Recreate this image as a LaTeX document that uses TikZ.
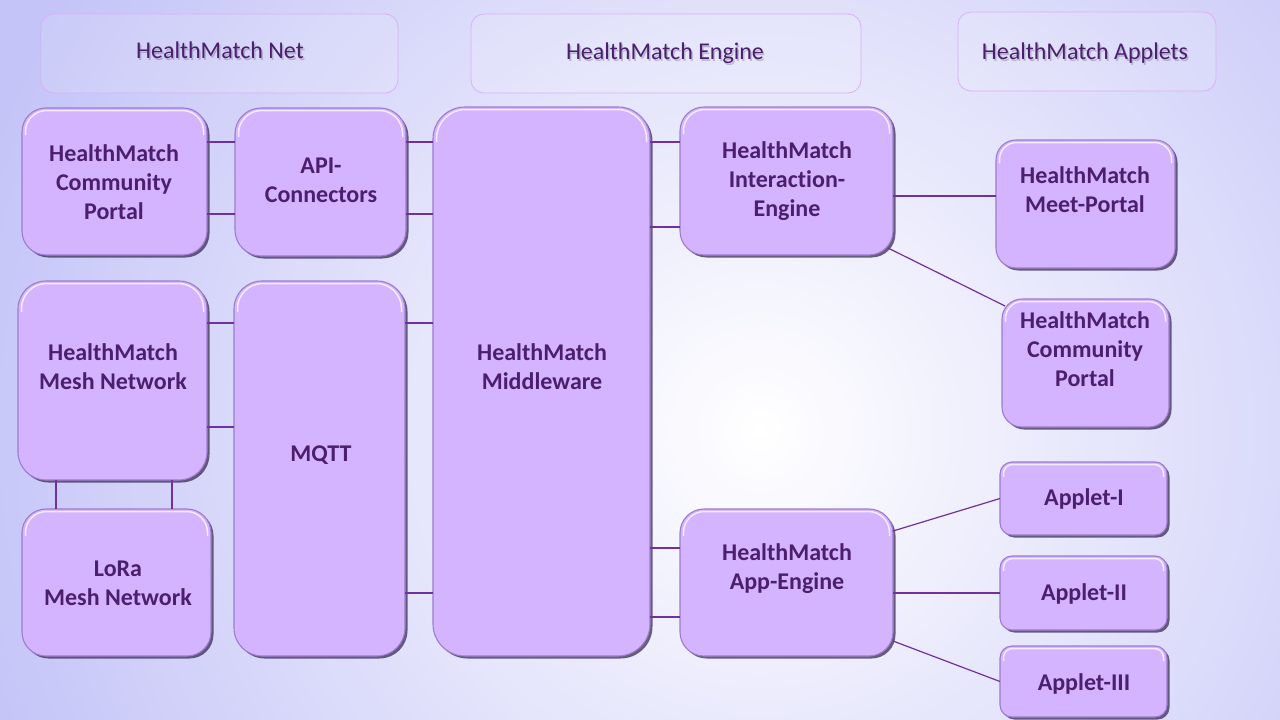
\documentclass[tikz,border=0pt]{standalone}
\usepackage{fontspec}
\setmainfont[Ligatures=NoCommon]{Carlito}
\usetikzlibrary{shadows,calc}
\definecolor{bgedge}{HTML}{C4C4F8}
\definecolor{boxfill}{HTML}{D4B4FE}
\definecolor{boxline}{HTML}{9C7CD0}
\definecolor{shadowc}{HTML}{3A2C52}
\definecolor{txtc}{HTML}{4B1E6E}
\definecolor{linkc}{HTML}{7030A0}
\definecolor{hdrline}{HTML}{DDB0F5}
\tikzset{
  boxstyle/.style={draw=boxline, line width=1.1pt, fill=boxfill, outer sep=0pt, inner sep=0pt,
    drop shadow={shadow xshift=2.5pt, shadow yshift=-2.5pt, fill=shadowc, opacity=0.75}},
  hilite/.style={draw=white, opacity=0.75, line width=1.5pt},
  boxtext/.style={text=txtc, align=center, font=\bfseries\fontsize{24}{29}\selectfont},
  hdrbox/.style={draw=hdrline, line width=0.8pt, fill=white, fill opacity=0.12, rounded corners=13pt,
    outer sep=0pt, inner sep=0pt},
  hdrtext/.style={text=txtc, font=\fontsize{24}{28}\selectfont},
  hdrshadow/.style={text=shadowc, opacity=0.25, font=\fontsize{24}{28}\selectfont},
  link/.style={draw=linkc, line width=1.2pt},
  linkthick/.style={draw=linkc, line width=2pt},
}
\newcommand\mybox[6]{%
  \node[boxstyle, rounded corners=#6pt, minimum width=#4pt, minimum height=#5pt] (#1) at (#2,#3) {};
  \draw[hilite, rounded corners=#6pt-3pt]
    ([shift={(3.5,#6+3)}]#1.north west) -- ([shift={(3.5,2.5)}]#1.north west)
    -- ([shift={(-3.5,2.5)}]#1.north east) -- ([shift={(-3.5,#6+3)}]#1.north east);
}
\begin{document}
\begin{tikzpicture}[x=1pt,y=-1pt]
\useasboundingbox (0,0) rectangle (1280,720);
\begin{scope}
  \clip (0,0) rectangle (1280,720);
  \shade[inner color=white, outer color=bgedge] (760-820,430-820) rectangle (760+820,430+820);
\end{scope}

% header boxes
\node[hdrbox, minimum width=357pt, minimum height=79pt] (hn) at (219.5,53.5) {};
\node[hdrbox, minimum width=390pt, minimum height=79pt] (he) at (666,53.5) {};
\node[hdrbox, minimum width=258pt, minimum height=79pt] (ha) at (1087,51.5) {};
\node[hdrshadow] (hns) at (221.5,52) {HealthMatch Net};
\node[hdrshadow] (hes) at (666.5,55) {HealthMatch Engine};
\node[hdrshadow] (has) at (1086.5,55) {HealthMatch Applets};
\node[hdrtext] (hnt) at (220,50) {HealthMatch Net};
\node[hdrtext] (het) at (665,53) {HealthMatch Engine};
\node[hdrtext] (hat) at (1085,53) {HealthMatch Applets};

% boxes
\mybox{cpl}{114.5}{181.5}{185}{147}{24}
\mybox{api}{320.5}{182}{171}{148}{26}
\mybox{mesh}{112.5}{380.5}{189}{199}{28}
\mybox{lora}{116.5}{582.5}{189}{147}{24}
\mybox{mqtt}{319.5}{468.5}{171}{375}{28}
\mybox{mw}{541.5}{381.5}{217}{549}{32}
\mybox{ie}{786.5}{181}{213}{148}{24}
\mybox{mp}{1085.5}{204}{179}{128}{20}
\mybox{cpr}{1085.5}{363}{167}{128}{20}
\mybox{ae}{786.5}{582.5}{213}{147}{24}
\mybox{aa}{1083.5}{498.5}{167}{73}{12}
\mybox{ab}{1083.5}{593}{167}{74}{12}
\mybox{ac}{1083.5}{681.5}{167}{71}{12}

% texts
\node[boxtext] (cplt) at (114,182) {HealthMatch\\Community\\Portal};
\node[boxtext] (apit) at (321,180.5) {API-\\Connectors};
\node[boxtext] (mesht) at (113,366.5) {HealthMatch\\Mesh Network};
\node[boxtext] (lorat) at (118,583.5) {LoRa\\Mesh Network};
\node[boxtext] (mqttt) at (321,455) {MQTT};
\node[boxtext] (mwt) at (542,366.5) {HealthMatch\\Middleware};
\node[boxtext] (iet) at (787,181) {HealthMatch\\Interaction-\\Engine};
\node[boxtext] (mpt) at (1085,189.5) {HealthMatch\\Meet-Portal};
\node[boxtext] (cprt) at (1085,349) {HealthMatch\\Community\\Portal};
\node[boxtext] (aet) at (787,568.5) {HealthMatch\\App-Engine};
\node[boxtext] (aat) at (1084,498.5) {Applet-I};
\node[boxtext] (abt) at (1084,593.5) {Applet-II};
\node[boxtext] (act) at (1084,683.5) {Applet-III};

% connectors
\draw[link] (cpl.east |- 0,142) -- (api.west |- 0,142);
\draw[link] (cpl.east |- 0,214) -- (api.west |- 0,214);
\draw[link] (api.east |- 0,142) -- (mw.west |- 0,142);
\draw[link] (api.east |- 0,214) -- (mw.west |- 0,214);
\draw[link] (mesh.east |- 0,323) -- (mqtt.west |- 0,323);
\draw[link] (mesh.east |- 0,427) -- (mqtt.west |- 0,427);
\draw[link] (mqtt.east |- 0,323) -- (mw.west |- 0,323);
\draw[link] (mqtt.east |- 0,593) -- (mw.west |- 0,593);
\draw[link] (mesh.south -| 56,0) -- (lora.north -| 56,0);
\draw[link] (mesh.south -| 172,0) -- (lora.north -| 172,0);
\draw[link] (mw.east |- 0,142) -- (ie.west |- 0,142);
\draw[link] (mw.east |- 0,227) -- (ie.west |- 0,227);
\draw[link] (mw.east |- 0,548) -- (ae.west |- 0,548);
\draw[link] (mw.east |- 0,617) -- (ae.west |- 0,617);
\draw[linkthick] (ie.east |- 0,196) -- (mp.west |- 0,196);
\draw[link] ([shift={(-5,-7)}]ie.south east) -- ([shift={(3,7)}]cpr.north west);
\draw[link] (ae.east |- 0,531) -- (aa.west);
\draw[linkthick] (ae.east |- ab.west) -- (ab.west);
\draw[link] (ae.east |- 0,641) -- (ac.west);
\end{tikzpicture}
\end{document}
